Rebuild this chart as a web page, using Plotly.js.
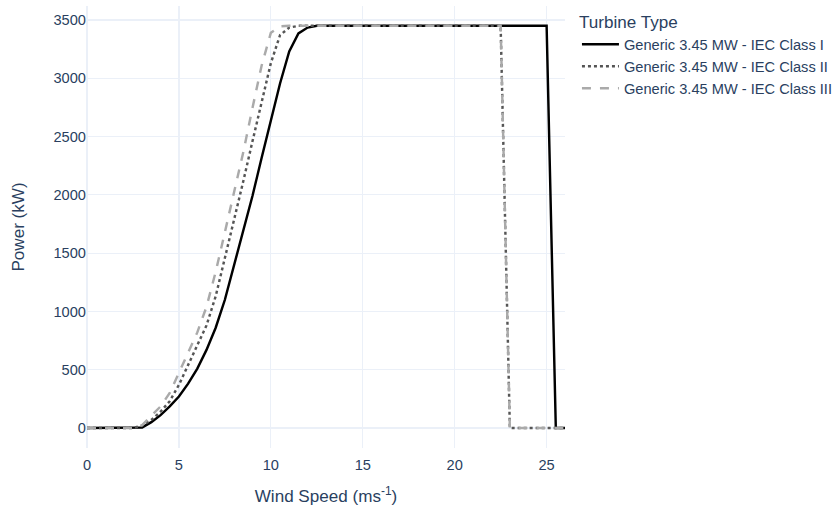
<!DOCTYPE html>
<html>
<head>
<meta charset="utf-8">
<script src="https://cdn.plot.ly/plotly-3.0.1.min.js"></script>
<style>html,body{margin:0;padding:0;background:#fff}#chart{width:837px;height:506px}</style>
</head>
<body>
<div id="chart"></div>
<script>
const windSpeed = [0,0.5,1,1.5,2,2.5,3,3.5,4,4.5,5,5.5,6,6.5,7,7.5,8,8.5,9,9.5,10,10.5,11,11.5,12,12.5,13,13.5,14,14.5,15,15.5,16,16.5,17,17.5,18,18.5,19,19.5,20,20.5,21,21.5,22,22.5,23,23.5,24,24.5,25,25.5,26];
const powerClassI = [0,0,0,0,0,0,5,50,110,185,270,380,510,670,860,1100,1390,1690,1990,2318,2637,2955,3230,3385,3435,3450,3450,3450,3450,3450,3450,3450,3450,3450,3450,3450,3450,3450,3450,3450,3450,3450,3450,3450,3450,3450,3450,3450,3450,3450,3450,0,0];
const powerClassII = [0,0,0,0,0,0,20,70,140,230,370,545,710,880,1130,1450,1770,2116,2459,2801,3130,3370,3435,3450,3450,3450,3450,3450,3450,3450,3450,3450,3450,3450,3450,3450,3450,3450,3450,3450,3450,3450,3450,3450,3450,3450,0,0,0,0,0,0,0];
const powerClassIII = [0,0,0,0,0,0,25,105,185,300,470,640,820,1040,1340,1680,2020,2365,2745,3110,3390,3445,3450,3450,3450,3450,3450,3450,3450,3450,3450,3450,3450,3450,3450,3450,3450,3450,3450,3450,3450,3450,3450,3450,3450,3450,0,0,0,0,0,0,0];
const seriesNames = ["Generic 3.45 MW - IEC Class I","Generic 3.45 MW - IEC Class II","Generic 3.45 MW - IEC Class III"];
const xTicks = [0,5,10,15,20,25];
const yTicks = [0,500,1000,1500,2000,2500,3000,3500];

const FONT = 'Arial, "Liberation Sans", sans-serif';
const S = 1.22;
const traces = [
  {x: windSpeed, y: powerClassI, name: seriesNames[0], mode: 'lines', line: {color: '#000000', width: 2*S, dash: 'solid'}},
  {x: windSpeed, y: powerClassII, name: seriesNames[1], mode: 'lines', line: {color: '#555555', width: 2*S, dash: 'dot'}},
  {x: windSpeed, y: powerClassIII, name: seriesNames[2], mode: 'lines', line: {color: '#aaaaaa', width: 2*S, dash: 'dash'}}
];
const layout = {
  width: 837, height: 506,
  margin: {l: 87, r: 272, t: 6, b: 58, autoexpand: false},
  paper_bgcolor: '#ffffff', plot_bgcolor: '#ffffff',
  font: {family: FONT, size: 12*S, color: '#2a3f5f'},
  xaxis: {
    title: {text: 'Wind Speed (ms<sup>-1</sup>)', font: {size: 14*S}, standoff: 18},
    range: [0, 26], tickvals: xTicks, ticktext: xTicks.map(String),
    gridcolor: '#EBF0F8', gridwidth: S, zeroline: true, zerolinecolor: '#EBF0F8', zerolinewidth: 2*S,
    showline: false, ticks: 'outside', ticklen: 3, tickcolor: 'rgba(0,0,0,0)', tickfont: {size: 12*S}, automargin: false
  },
  yaxis: {
    title: {text: 'Power (kW)', font: {size: 14*S}, standoff: 24},
    range: [-171.6, 3620], tickvals: yTicks, ticktext: yTicks.map(String),
    gridcolor: '#EBF0F8', gridwidth: S, zeroline: true, zerolinecolor: '#EBF0F8', zerolinewidth: 2*S,
    showline: false, ticks: '', tickfont: {size: 12*S}, automargin: false
  },
  legend: {title: {text: 'Turbine Type', font: {size: 14*S}}, font: {size: 12*S}, itemwidth: 37,
           x: 1.025, y: 1, xanchor: 'left', yanchor: 'top'},
  showlegend: true
};
Plotly.newPlot('chart', traces, layout, {displayModeBar: false, staticPlot: true});
</script>
</body>
</html>
